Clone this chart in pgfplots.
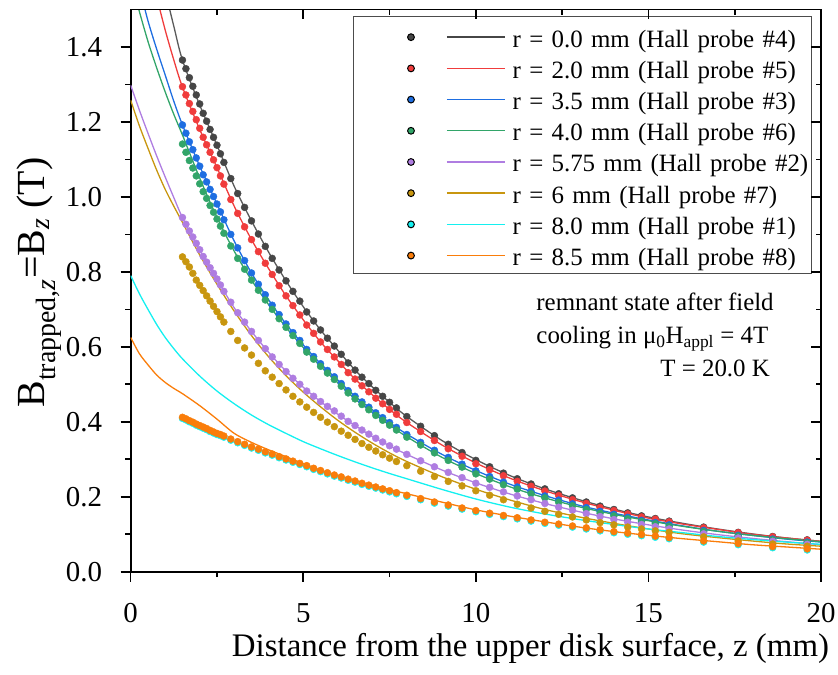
\documentclass[border=0pt]{standalone}
\usepackage{fontspec}
\setmainfont{Liberation Serif}
\usepackage{pgfplots}
\usepackage{pgfplotstable}
\pgfplotsset{compat=1.18}

\definecolor{cbk}{RGB}{70,70,70}
\definecolor{cbkl}{RGB}{90,90,90}
\definecolor{crd}{RGB}{240,60,60}
\definecolor{cbl}{RGB}{30,110,225}
\definecolor{cgn}{RGB}{50,165,105}
\definecolor{cpu}{RGB}{175,125,225}
\definecolor{cgo}{RGB}{200,150,15}
\definecolor{ccy}{RGB}{20,240,240}
\definecolor{cor}{RGB}{250,125,10}

% measured points: z (mm) and B (T) per probe
\pgfplotstableread{
z    bk    rd    bl    gn    pu    go    cy    or
1.5  1.365 1.294 1.192 1.141 0.945 0.840 0.409 0.412
1.6  1.342 1.272 1.170 1.119 0.927 0.827 0.405 0.408
1.7  1.318 1.249 1.147 1.097 0.909 0.813 0.400 0.403
1.8  1.295 1.228 1.126 1.077 0.893 0.796 0.396 0.399
1.9  1.272 1.206 1.104 1.056 0.876 0.778 0.391 0.394
2.0  1.248 1.183 1.082 1.035 0.859 0.764 0.387 0.390
2.1  1.223 1.159 1.059 1.014 0.841 0.750 0.383 0.386
2.2  1.202 1.139 1.040 0.996 0.826 0.736 0.379 0.382
2.3  1.180 1.119 1.020 0.977 0.811 0.722 0.374 0.377
2.4  1.159 1.099 1.001 0.959 0.796 0.708 0.370 0.373
2.5  1.138 1.078 0.981 0.941 0.781 0.694 0.366 0.369
2.6  1.115 1.056 0.960 0.922 0.765 0.680 0.363 0.366
2.7  1.092 1.034 0.939 0.903 0.748 0.666 0.359 0.362
2.9  1.049 0.993 0.900 0.869 0.719 0.641 0.351 0.354
3.1  1.009 0.956 0.864 0.836 0.691 0.617 0.344 0.347
3.3  0.972 0.920 0.830 0.807 0.666 0.597 0.337 0.340
3.5  0.936 0.886 0.797 0.778 0.641 0.578 0.330 0.333
3.7  0.901 0.854 0.767 0.751 0.617 0.556 0.324 0.327
3.9  0.868 0.823 0.739 0.725 0.595 0.536 0.317 0.320
4.1  0.836 0.793 0.711 0.700 0.573 0.519 0.311 0.314
4.3  0.805 0.763 0.686 0.675 0.553 0.502 0.304 0.307
4.5  0.776 0.736 0.661 0.652 0.534 0.485 0.298 0.301
4.7  0.748 0.710 0.638 0.630 0.516 0.468 0.292 0.295
4.9  0.722 0.685 0.617 0.609 0.500 0.453 0.286 0.289
5.1  0.693 0.658 0.593 0.586 0.482 0.439 0.280 0.283
5.3  0.669 0.636 0.574 0.567 0.468 0.425 0.273 0.276
5.5  0.645 0.613 0.555 0.548 0.454 0.412 0.267 0.270
5.7  0.623 0.593 0.537 0.530 0.441 0.399 0.261 0.264
5.9  0.602 0.573 0.520 0.513 0.429 0.387 0.255 0.258
6.1  0.580 0.553 0.502 0.495 0.415 0.375 0.250 0.253
6.3  0.557 0.531 0.483 0.477 0.401 0.364 0.244 0.247
6.5  0.538 0.514 0.468 0.461 0.390 0.353 0.239 0.242
6.7  0.519 0.496 0.453 0.446 0.378 0.342 0.233 0.236
6.9  0.502 0.480 0.439 0.432 0.367 0.332 0.228 0.231
7.1  0.484 0.463 0.424 0.417 0.356 0.322 0.223 0.226
7.3  0.468 0.448 0.411 0.404 0.346 0.312 0.218 0.221
7.5  0.452 0.433 0.398 0.391 0.336 0.303 0.213 0.216
7.7  0.437 0.420 0.385 0.378 0.327 0.294 0.208 0.211
8.0  0.414 0.398 0.366 0.359 0.313 0.283 0.201 0.204
8.4  0.388 0.374 0.345 0.338 0.296 0.268 0.192 0.195
8.8  0.363 0.350 0.324 0.317 0.280 0.254 0.183 0.186
9.2  0.340 0.328 0.305 0.297 0.265 0.241 0.175 0.178
9.6  0.318 0.308 0.287 0.279 0.251 0.229 0.167 0.170
10.0 0.297 0.288 0.269 0.261 0.236 0.216 0.160 0.163
10.4 0.280 0.272 0.254 0.247 0.225 0.204 0.153 0.156
10.8 0.263 0.256 0.239 0.232 0.213 0.192 0.147 0.150
11.2 0.248 0.241 0.226 0.220 0.202 0.180 0.141 0.144
11.6 0.234 0.228 0.214 0.208 0.192 0.170 0.135 0.138
12.0 0.221 0.215 0.202 0.197 0.182 0.161 0.129 0.132
12.4 0.208 0.203 0.191 0.185 0.172 0.153 0.124 0.127
12.8 0.197 0.192 0.181 0.176 0.164 0.146 0.119 0.122
13.2 0.186 0.182 0.171 0.166 0.155 0.138 0.114 0.117
13.6 0.175 0.171 0.161 0.156 0.147 0.131 0.109 0.112
14.0 0.166 0.163 0.153 0.149 0.139 0.125 0.104 0.107
14.4 0.157 0.154 0.145 0.141 0.132 0.119 0.100 0.103
14.8 0.149 0.146 0.137 0.134 0.126 0.114 0.096 0.099
15.2 0.142 0.140 0.131 0.128 0.120 0.109 0.092 0.095
15.6 0.135 0.133 0.125 0.121 0.114 0.105 0.088 0.091
16.6 0.119 0.117 0.110 0.107 0.101 0.093 0.079 0.082
17.6 0.105 0.104 0.097 0.095 0.090 0.082 0.072 0.075
18.6 0.094 0.093 0.087 0.085 0.081 0.074 0.064 0.067
19.6 0.085 0.084 0.079 0.077 0.073 0.068 0.058 0.061
}\dots

% fitted curves
\pgfplotstableread{
z    bk    rd    bl    gn    pu    go    cy    or
0    1.950 1.840 1.650 1.580 1.298 1.258 0.790 0.625
0.25 1.860 1.730 1.560 1.495 1.232 1.190 0.742 0.582
0.5  1.760 1.630 1.470 1.415 1.170 1.130 0.700 0.552
0.75 1.655 1.535 1.395 1.345 1.110 1.072 0.660 0.525
1.0  1.550 1.445 1.325 1.280 1.053 1.020 0.625 0.505
1.25 1.455 1.365 1.255 1.220 0.998 0.975 0.595 0.489
1.5  1.365 1.293 1.192 1.165 0.945 0.932 0.568 0.475
2.0  1.245 1.180 1.082 1.050 0.858 0.845 0.522 0.443
2.5  1.138 1.078 0.981 0.945 0.780 0.767 0.482 0.407
3.0  1.028 0.975 0.882 0.855 0.704 0.695 0.448 0.369
3.5  0.936 0.886 0.797 0.778 0.641 0.630 0.418 0.345
4.0  0.852 0.808 0.725 0.712 0.585 0.573 0.392 0.325
4.5  0.776 0.736 0.661 0.652 0.535 0.523 0.369 0.307
5.0  0.707 0.672 0.605 0.598 0.492 0.479 0.347 0.288
5.5  0.645 0.613 0.555 0.548 0.454 0.440 0.328 0.271
6.0  0.591 0.563 0.511 0.504 0.420 0.404 0.310 0.256
6.5  0.538 0.514 0.468 0.461 0.390 0.372 0.293 0.243
7.0  0.493 0.472 0.432 0.425 0.361 0.343 0.277 0.231
7.5  0.452 0.433 0.398 0.391 0.336 0.317 0.262 0.219
8.0  0.414 0.398 0.367 0.360 0.313 0.294 0.248 0.208
9    0.351 0.339 0.314 0.306 0.272 0.254 0.220 0.186
10   0.299 0.290 0.270 0.262 0.237 0.220 0.194 0.165
11   0.256 0.249 0.233 0.226 0.207 0.191 0.172 0.148
12   0.221 0.216 0.203 0.197 0.182 0.166 0.154 0.133
13   0.192 0.188 0.177 0.173 0.160 0.146 0.139 0.119
14   0.167 0.164 0.156 0.153 0.141 0.129 0.126 0.107
15   0.146 0.143 0.138 0.136 0.125 0.114 0.114 0.097
16   0.129 0.127 0.122 0.121 0.111 0.101 0.104 0.088
17   0.114 0.113 0.108 0.108 0.099 0.091 0.094 0.080
18   0.101 0.100 0.097 0.097 0.089 0.082 0.086 0.072
19   0.090 0.090 0.087 0.088 0.080 0.074 0.079 0.066
20   0.081 0.081 0.079 0.080 0.072 0.068 0.073 0.060
}\fits

\pgfplotsset{
  dotline/.style={legend image code/.code={
      \path (-57bp,0bp);
      \fill[fill=#1] (0bp,-1.4bp) circle (3.4bp);
      \draw[draw=#1, line width=1.4bp] (36bp,-1.4bp) -- (94bp,-1.4bp);}},
  dots/.style={only marks, mark=*, mark size=3.5pt, color=#1,
    mark options={draw=none, fill=#1}, forget plot},
  fit/.style={no marks, smooth, line width=1.3bp, color=#1, forget plot},
  frame/.style={scale only axis, width=690.3bp, height=562.2bp,
    at={(0bp,0bp)}, anchor=south west,
    xmin=0, xmax=20, ymin=0, ymax=1.5,
    xtick={0,5,10,15,20}, ytick={0,0.2,0.4,0.6,0.8,1.0,1.2,1.4},
    minor x tick num=1, minor y tick num=1,
    major tick length=10bp, minor tick length=5.5bp,
    tick style={line width=1.6bp, black},
    axis line style={line width=1.8bp}},
}

\begin{document}
\begin{tikzpicture}
\useasboundingbox (-130.7bp,-103.3bp) rectangle (707.3bp,571.7bp);
\begin{axis}[frame,
  axis x line*=bottom, axis y line*=left,
  tick align=outside,
  /pgf/number format/assume math mode=true,
  xticklabel={\pgfmathprintnumber{\tick}},
  yticklabel={\pgfmathprintnumber[fixed, fixed zerofill, precision=1]{\tick}},
  xticklabel style={font=\fontsize{29}{29}\selectfont, anchor=north,
    inner sep=0pt, yshift=-21.6bp},
  yticklabel style={font=\fontsize{29}{29}\selectfont, anchor=east,
    inner sep=0pt, xshift=-18.4bp},
  legend cell align=left,
  legend style={at={(0.322,0.989)}, anchor=north west, draw=black!70,
    line width=1bp, fill=white, inner xsep=0pt, inner ysep=0pt,
    font=\fontsize{25}{25}\selectfont, row sep=-8bp,
    nodes={inner sep=0pt, text height=31bp, text depth=8.2bp, text width=299bp},
    /tikz/every odd column/.style={column sep=7bp}},
]
\addplot[dots=cbk] table[x=z,y=bk]{\dots};
\addplot[fit=cbkl] table[x=z,y=bk]{\fits};
\addplot[dots=crd] table[x=z,y=rd]{\dots};
\addplot[fit=crd] table[x=z,y=rd]{\fits};
\addplot[dots=cbl] table[x=z,y=bl]{\dots};
\addplot[fit=cbl] table[x=z,y=bl]{\fits};
\addplot[dots=cgn] table[x=z,y=gn]{\dots};
\addplot[fit=cgn] table[x=z,y=gn]{\fits};
\addplot[dots=cpu] table[x=z,y=pu]{\dots};
\addplot[fit=cpu] table[x=z,y=pu]{\fits};
\addplot[dots=cgo] table[x=z,y=go]{\dots};
\addplot[fit=cgo] table[x=z,y=go]{\fits};
\addplot[dots=ccy] table[x=z,y=cy]{\dots};
\addplot[fit=ccy] table[x=z,y=cy]{\fits};
\addplot[dots=cor] table[x=z,y=or]{\dots};
\addplot[fit=cor] table[x=z,y=or]{\fits};

\addlegendimage{dotline=cbk}\addlegendentry{r = 0.0 mm (Hall probe \#4)}
\addlegendimage{dotline=crd}\addlegendentry{r = 2.0 mm (Hall probe \#5)}
\addlegendimage{dotline=cbl}\addlegendentry{r = 3.5 mm (Hall probe \#3)}
\addlegendimage{dotline=cgn}\addlegendentry{r = 4.0 mm (Hall probe \#6)}
\addlegendimage{dotline=cpu}\addlegendentry{r = 5.75 mm (Hall probe \#2)}
\addlegendimage{dotline=cgo}\addlegendentry{r = 6 mm (Hall probe \#7)}
\addlegendimage{dotline=ccy}\addlegendentry{r = 8.0 mm (Hall probe \#1)}
\addlegendimage{dotline=cor}\addlegendentry{r = 8.5 mm (Hall probe \#8)}

\begin{scope}[every node/.style={anchor=base west, inner sep=0pt,
    font=\fontsize{25}{25}\selectfont}]
\node at (axis cs:11.75,0.6956) {remnant state after field};
\node at (axis cs:11.75,0.6094) {cooling in μ\textsubscript{0}H\textsubscript{appl} = 4T};
\node at (axis cs:15.34,0.5203) {T = 20.0 K};
\end{scope}
\end{axis}

\begin{axis}[frame,
  axis x line*=top, axis y line*=right,
  tick align=inside,
  xticklabels={}, yticklabels={},
]
\end{axis}

\node[anchor=base, font=\fontsize{33}{33}\selectfont] at (399.8bp,-84.3bp)
  {Distance from the upper disk surface, z (mm)};
\node[rotate=90, anchor=base, font=\fontsize{40}{40}\selectfont] at (-85.7bp,289.2bp)
  {B\textsubscript{trapped,\textit{z}}=B\textsubscript{\textit{z}} (T)};
\end{tikzpicture}
\end{document}
